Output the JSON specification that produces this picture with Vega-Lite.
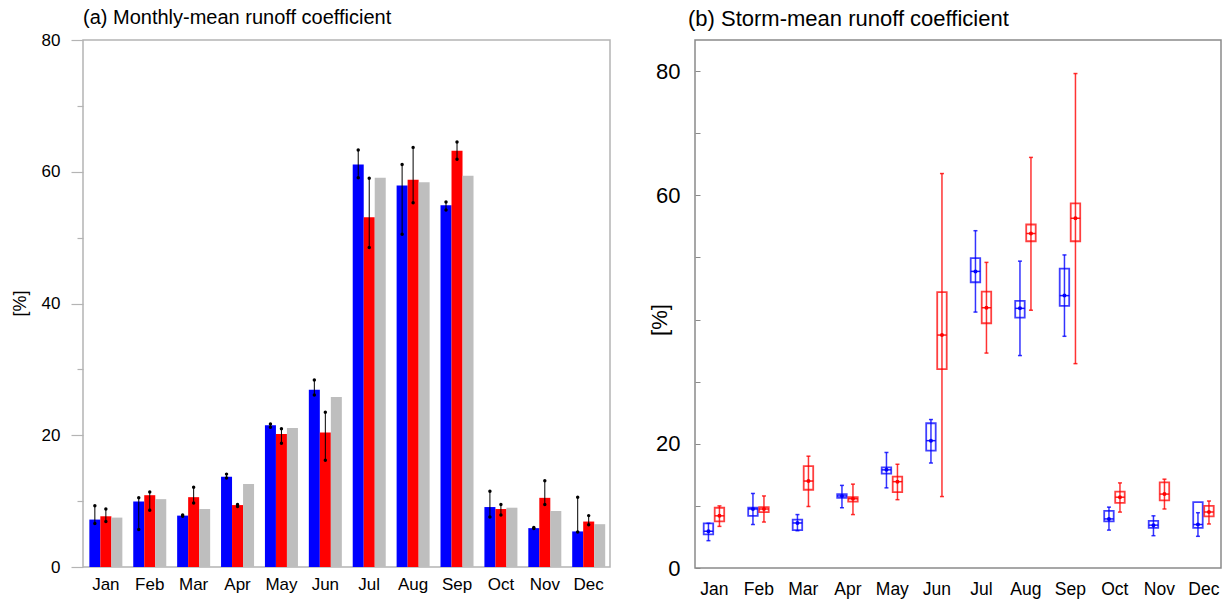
{
  "$schema": "https://vega.github.io/schema/vega-lite/v6.json",
  "background": "white",
  "padding": {"left": 10, "top": 7, "right": 0, "bottom": 0},
  "bounds": "flush",
  "spacing": 85,
  "config": {"font": "Liberation Sans", "axis": {"labelColor": "black", "titleColor": "black"}},
  "datasets": {
    "monthly": [
      {"month": "Jan", "s": "s1", "v": 7.2, "lo": 6.6, "hi": 9.3},
      {"month": "Jan", "s": "s2", "v": 7.7, "lo": 6.9, "hi": 8.8},
      {"month": "Jan", "s": "s3", "v": 7.5, "lo": null, "hi": null},
      {"month": "Feb", "s": "s1", "v": 9.95, "lo": 5.7, "hi": 10.5},
      {"month": "Feb", "s": "s2", "v": 10.9, "lo": 8.6, "hi": 11.4},
      {"month": "Feb", "s": "s3", "v": 10.3, "lo": null, "hi": null},
      {"month": "Mar", "s": "s1", "v": 7.8, "lo": 7.7, "hi": 7.9},
      {"month": "Mar", "s": "s2", "v": 10.6, "lo": 9.7, "hi": 12.1},
      {"month": "Mar", "s": "s3", "v": 8.8, "lo": null, "hi": null},
      {"month": "Apr", "s": "s1", "v": 13.7, "lo": 13.5, "hi": 14.1},
      {"month": "Apr", "s": "s2", "v": 9.4, "lo": 9.2, "hi": 9.5},
      {"month": "Apr", "s": "s3", "v": 12.6, "lo": null, "hi": null},
      {"month": "May", "s": "s1", "v": 21.5, "lo": 21.2, "hi": 21.7},
      {"month": "May", "s": "s2", "v": 20.2, "lo": 18.8, "hi": 21.0},
      {"month": "May", "s": "s3", "v": 21.1, "lo": null, "hi": null},
      {"month": "Jun", "s": "s1", "v": 26.9, "lo": 26.1, "hi": 28.4},
      {"month": "Jun", "s": "s2", "v": 20.4, "lo": 16.2, "hi": 23.5},
      {"month": "Jun", "s": "s3", "v": 25.8, "lo": null, "hi": null},
      {"month": "Jul", "s": "s1", "v": 61.1, "lo": 59.1, "hi": 63.3},
      {"month": "Jul", "s": "s2", "v": 53.1, "lo": 48.5, "hi": 59.0},
      {"month": "Jul", "s": "s3", "v": 59.1, "lo": null, "hi": null},
      {"month": "Aug", "s": "s1", "v": 57.9, "lo": 50.5, "hi": 61.1},
      {"month": "Aug", "s": "s2", "v": 58.8, "lo": 55.3, "hi": 63.7},
      {"month": "Aug", "s": "s3", "v": 58.4, "lo": null, "hi": null},
      {"month": "Sep", "s": "s1", "v": 54.9, "lo": 54.2, "hi": 55.4},
      {"month": "Sep", "s": "s2", "v": 63.2, "lo": 61.9, "hi": 64.5},
      {"month": "Sep", "s": "s3", "v": 59.4, "lo": null, "hi": null},
      {"month": "Oct", "s": "s1", "v": 9.1, "lo": 7.6, "hi": 11.5},
      {"month": "Oct", "s": "s2", "v": 8.8, "lo": 7.9, "hi": 9.5},
      {"month": "Oct", "s": "s3", "v": 9.0, "lo": null, "hi": null},
      {"month": "Nov", "s": "s1", "v": 5.9, "lo": 5.85, "hi": 6.0},
      {"month": "Nov", "s": "s2", "v": 10.5, "lo": 9.5, "hi": 13.1},
      {"month": "Nov", "s": "s3", "v": 8.5, "lo": null, "hi": null},
      {"month": "Dec", "s": "s1", "v": 5.4, "lo": 5.3, "hi": 10.6},
      {"month": "Dec", "s": "s2", "v": 6.9, "lo": 6.4, "hi": 7.8},
      {"month": "Dec", "s": "s3", "v": 6.5, "lo": null, "hi": null}
    ],
    "storm": [
      {"month": "Jan", "s": "s1", "lo": 4.4, "q1": 5.4, "med": 5.9, "q3": 7.2, "hi": 7.2},
      {"month": "Jan", "s": "s2", "lo": 6.7, "q1": 7.5, "med": 8.4, "q3": 9.7, "hi": 10.0},
      {"month": "Feb", "s": "s1", "lo": 7.0, "q1": 8.4, "med": 9.5, "q3": 9.7, "hi": 12.0},
      {"month": "Feb", "s": "s2", "lo": 7.4, "q1": 9.0, "med": 9.5, "q3": 9.8, "hi": 11.6},
      {"month": "Mar", "s": "s1", "lo": 6.0, "q1": 6.1, "med": 7.25, "q3": 7.8, "hi": 8.6},
      {"month": "Mar", "s": "s2", "lo": 9.9, "q1": 12.6, "med": 14.0, "q3": 16.4, "hi": 18.0},
      {"month": "Apr", "s": "s1", "lo": 9.7, "q1": 11.3, "med": 11.6, "q3": 11.9, "hi": 13.3},
      {"month": "Apr", "s": "s2", "lo": 8.6, "q1": 10.7, "med": 11.15, "q3": 11.4, "hi": 13.5},
      {"month": "May", "s": "s1", "lo": 12.9, "q1": 15.2, "med": 15.8, "q3": 16.2, "hi": 18.6},
      {"month": "May", "s": "s2", "lo": 11.0, "q1": 12.2, "med": 13.9, "q3": 14.7, "hi": 16.7},
      {"month": "Jun", "s": "s1", "lo": 16.9, "q1": 18.9, "med": 20.5, "q3": 23.3, "hi": 23.9},
      {"month": "Jun", "s": "s2", "lo": 11.5, "q1": 32.0, "med": 37.5, "q3": 44.4, "hi": 63.5},
      {"month": "Jul", "s": "s1", "lo": 41.2, "q1": 46.0, "med": 47.75, "q3": 49.9, "hi": 54.3},
      {"month": "Jul", "s": "s2", "lo": 34.6, "q1": 39.4, "med": 41.9, "q3": 44.5, "hi": 49.2},
      {"month": "Aug", "s": "s1", "lo": 34.2, "q1": 40.3, "med": 41.8, "q3": 43.0, "hi": 49.4},
      {"month": "Aug", "s": "s2", "lo": 41.5, "q1": 52.6, "med": 53.85, "q3": 55.3, "hi": 66.1},
      {"month": "Sep", "s": "s1", "lo": 37.3, "q1": 42.2, "med": 43.85, "q3": 48.2, "hi": 50.4},
      {"month": "Sep", "s": "s2", "lo": 32.9, "q1": 52.6, "med": 56.3, "q3": 58.7, "hi": 79.6},
      {"month": "Oct", "s": "s1", "lo": 6.1, "q1": 7.5, "med": 7.9, "q3": 9.2, "hi": 9.8},
      {"month": "Oct", "s": "s2", "lo": 9.0, "q1": 10.5, "med": 11.4, "q3": 12.3, "hi": 13.7},
      {"month": "Nov", "s": "s1", "lo": 5.2, "q1": 6.45, "med": 6.9, "q3": 7.6, "hi": 8.4},
      {"month": "Nov", "s": "s2", "lo": 9.5, "q1": 10.9, "med": 11.9, "q3": 13.8, "hi": 14.3},
      {"month": "Dec", "s": "s1", "lo": 5.1, "q1": 6.45, "med": 7.0, "q3": 10.6, "hi": 8.9},
      {"month": "Dec", "s": "s2", "lo": 7.1, "q1": 8.3, "med": 9.0, "q3": 10.0, "hi": 10.8}
    ]
  },
  "hconcat": [
    {
      "width": 527,
      "height": 527,
      "view": {"stroke": "#b4b4b4", "strokeWidth": 1.5},
      "title": {"text": "(a) Monthly-mean runoff coefficient", "anchor": "start", "frame": "group", "fontSize": 20, "fontWeight": "normal", "font": "Liberation Sans", "color": "black", "offset": 3},
      "data": {"name": "monthly"},
      "encoding": {
        "x": {"field": "month", "type": "nominal", "title": null,
          "scale": {"domain": ["Jan","Feb","Mar","Apr","May","Jun","Jul","Aug","Sep","Oct","Nov","Dec"], "paddingInner": 0.248, "paddingOuter": 0.127, "align": 0.57},
          "axis": {"ticks": false, "domain": false, "labelAngle": 0, "labelFontSize": 17, "labelPadding": 9}},
        "xOffset": {"field": "s", "type": "nominal", "scale": {"domain": ["s1","s2","s3"], "paddingInner": 0, "paddingOuter": 0}}
      },
      "layer": [
        {
          "mark": {"type": "bar"},
          "encoding": {
            "y": {"field": "v", "type": "quantitative", "title": "[%]",
              "scale": {"domain": [0, 80], "nice": false, "zero": true},
              "axis": {"values": [0,5,10,15,20,25,30,35,40,45,50,55,60,65,70,75,80],
                "labelExpr": "datum.value % 20 === 0 ? datum.label : ''",
                "tickSize": {"condition": {"test": "datum.value % 20 === 0", "value": 12}, "value": 6},
                "tickColor": "#b4b4b4", "tickWidth": 1.2, "domain": false, "grid": false,
                "labelFontSize": 17, "labelPadding": 11, "labelFlush": false, "labelOverlap": false,
                "titleFontSize": 18, "titleFontWeight": "normal", "titleX": -63, "titleY": 263, "titleBaseline": "middle", "titleAngle": 270}},
            "color": {"field": "s", "type": "nominal", "legend": null, "scale": {"domain": ["s1","s2","s3"], "range": ["#0000ff", "#ff0000", "#bebebe"]}}
          }
        },
        {
          "transform": [{"filter": "isValid(datum.lo)"}],
          "mark": {"type": "rule", "color": "black", "strokeWidth": 1},
          "encoding": {"y": {"field": "lo", "type": "quantitative"}, "y2": {"field": "hi"}}
        },
        {
          "transform": [{"filter": "isValid(datum.lo)"}],
          "mark": {"type": "point", "filled": true, "color": "black", "size": 12, "opacity": 1},
          "encoding": {"y": {"field": "lo", "type": "quantitative"}}
        },
        {
          "transform": [{"filter": "isValid(datum.hi)"}],
          "mark": {"type": "point", "filled": true, "color": "black", "size": 12, "opacity": 1},
          "encoding": {"y": {"field": "hi", "type": "quantitative"}}
        }
      ]
    },
    {
      "width": 526,
      "height": 528,
      "view": {"stroke": "#8a8a8a", "strokeWidth": 1.5},
      "title": {"text": "(b) Storm-mean runoff coefficient", "anchor": "start", "frame": "group", "fontSize": 22, "fontWeight": "normal", "font": "Liberation Sans", "color": "black", "offset": 9, "dx": -7},
      "data": {"name": "storm"},
      "encoding": {
        "x": {"field": "month", "type": "nominal", "title": null,
          "scale": {"domain": ["Jan","Feb","Mar","Apr","May","Jun","Jul","Aug","Sep","Oct","Nov","Dec"], "paddingInner": 0.488, "paddingOuter": 0.154, "align": 0.58},
          "axis": {"ticks": false, "domain": false, "labelAngle": 0, "labelFontSize": 17.5, "labelPadding": 12}},
        "xOffset": {"field": "s", "type": "nominal", "scale": {"domain": ["s1","s2"], "paddingInner": 0, "paddingOuter": 0}},
        "color": {"field": "s", "type": "nominal", "legend": null, "scale": {"domain": ["s1","s2"], "range": ["#0000ff", "#ff0000"]}}
      },
      "layer": [
        {
          "mark": {"type": "rule", "strokeWidth": 1.5, "opacity": 0.8},
          "encoding": {
            "y": {"field": "lo", "type": "quantitative", "title": "[%]",
              "scale": {"domain": [0, 85], "nice": false, "zero": true},
              "axis": {"values": [0,5,10,15,20,25,30,35,40,45,50,55,60,65,70,75,80],
                "labelExpr": "datum.value % 20 === 0 && datum.value !== 40 ? datum.label : ''",
                "tickSize": -5,
                "tickColor": "#8a8a8a", "tickWidth": 1, "domain": false, "grid": false,
                "labelFontSize": 22, "labelPadding": 20, "labelFlush": false, "labelOverlap": false,
                "titleFontSize": 22, "titleFontWeight": "normal", "titleX": -36, "titleY": 279.5, "titleBaseline": "middle", "titleAngle": 270}},
            "y2": {"field": "hi"}
          }
        },
        {
          "mark": {"type": "tick", "size": 4, "thickness": 1.5, "opacity": 0.8},
          "encoding": {"y": {"field": "lo", "type": "quantitative"}}
        },
        {
          "mark": {"type": "tick", "size": 4, "thickness": 1.5, "opacity": 0.8},
          "encoding": {"y": {"field": "hi", "type": "quantitative"}}
        },
        {
          "mark": {"type": "bar", "filled": false, "width": 9.5, "strokeWidth": 1.8, "opacity": 0.75},
          "encoding": {"y": {"field": "q1", "type": "quantitative"}, "y2": {"field": "q3"}}
        },
        {
          "mark": {"type": "tick", "size": 9.5, "thickness": 1.5, "opacity": 0.9},
          "encoding": {"y": {"field": "med", "type": "quantitative"}}
        },
        {
          "mark": {"type": "point", "filled": true, "size": 16, "opacity": 1},
          "encoding": {"y": {"field": "med", "type": "quantitative"}}
        }
      ]
    }
  ]
}
